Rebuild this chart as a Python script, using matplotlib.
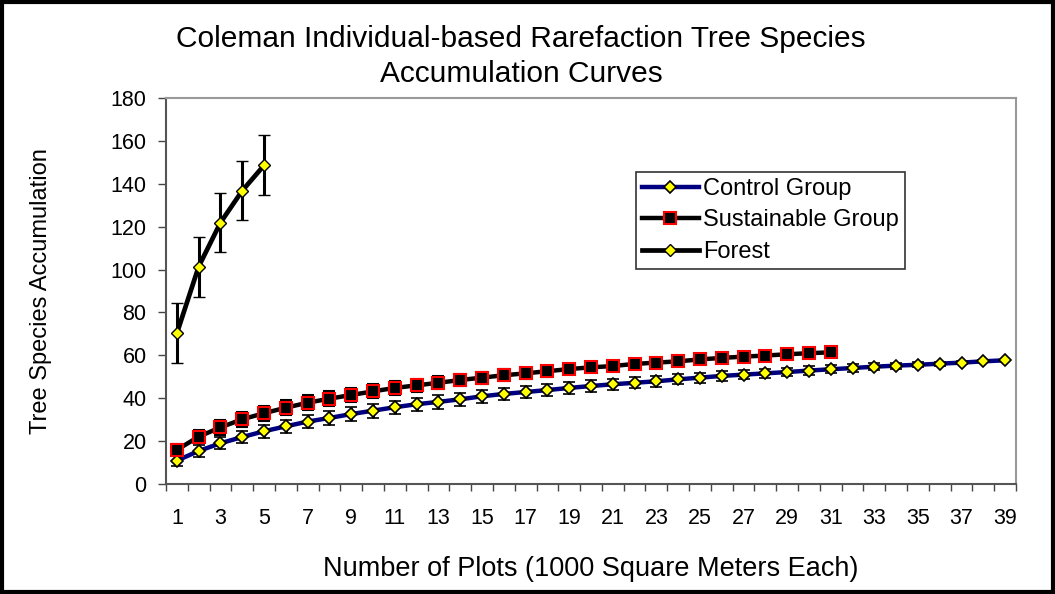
import matplotlib.pyplot as plt
import matplotlib.patches as patches
import numpy as np

plt.rcParams['font.family'] = ['Liberation Sans', 'DejaVu Sans']

# data
control = [10.9, 15.4, 19.0, 21.9, 24.6, 26.9, 29.1, 30.8, 32.6, 34.2,
           35.8, 37.2, 38.3, 39.5, 40.9, 42.0, 42.9, 43.8, 44.8, 45.7,
           46.5, 47.2, 47.9, 48.8, 49.6, 50.4, 51.0, 51.6, 52.2, 52.9,
           53.5, 54.1, 54.7, 55.2, 55.6, 56.1, 56.6, 57.2, 57.7]
control_err = [2.3, 2.7, 2.9, 3.0, 3.1, 3.1, 3.2, 3.2, 3.2, 3.2,
               3.1, 3.1, 3.1, 3.0, 3.0, 2.9, 2.9, 2.8, 2.8, 2.7,
               2.6, 2.6, 2.5, 2.4, 2.3, 2.2, 2.2, 2.1, 2.0, 1.9,
               1.8, 1.7, 1.5, 1.4, 1.2, 1.0, 0.8, 0.5, 0.0]
sustain = [15.9, 22.1, 26.4, 30.2, 33.0, 35.6, 37.9, 39.8, 41.5, 43.2,
           44.8, 46.0, 47.2, 48.5, 49.6, 50.7, 51.6, 52.6, 53.6, 54.4,
           55.0, 56.0, 56.6, 57.2, 58.1, 58.8, 59.4, 59.9, 60.5, 61.0,
           61.4]
sustain_err = [2.6, 3.2, 3.4, 3.5, 3.6, 3.5, 3.5, 3.4, 3.3, 3.3,
               3.2, 3.1, 3.0, 2.9, 2.8, 2.7, 2.6, 2.5, 2.4, 2.3,
               2.2, 2.1, 2.0, 1.8, 1.6, 1.4, 1.2, 1.0, 0.7, 0.4, 0.0]
forest = [70.3, 101.4, 121.9, 136.8, 148.6]
forest_err = [14.0, 14.0, 13.8, 13.8, 14.0]

n_cat = 39
x_ctrl = np.arange(1, len(control) + 1)
x_sus = np.arange(1, len(sustain) + 1)
x_for = np.arange(1, len(forest) + 1)

fig = plt.figure(figsize=(10.55, 5.94), dpi=100)
ax = fig.add_axes([166/1055, 1 - 484/594, 850/1055, 386/594])

ax.errorbar(x_ctrl, control, yerr=control_err, color='#000080', lw=3.2,
            marker='D', ms=6, mfc='#ffff00', mec='black', mew=1.2,
            ecolor='black', elinewidth=2.0, capsize=4.5, capthick=2.5,
            label='Control Group', zorder=3)
ax.errorbar(x_sus, sustain, yerr=sustain_err, color='black', lw=3.2,
            marker='s', ms=8, mfc='black', mec='#ff0000', mew=1.5,
            ecolor='black', elinewidth=2.0, capsize=4.5, capthick=2.5,
            label='Sustainable Group', zorder=4)
ax.errorbar(x_for, forest, yerr=forest_err, color='black', lw=3.4,
            marker='D', ms=6, mfc='#ffff00', mec='black', mew=1.0,
            ecolor='black', elinewidth=2.2, capsize=4.5, capthick=2.5,
            label='Forest', zorder=5)

ax.set_xlim(0.5, n_cat + 0.5)
ax.set_ylim(0, 180)
ax.set_yticks(np.arange(0, 181, 20))
ax.set_xticks(np.arange(1, n_cat + 1, 2))
ax.set_xticks(np.arange(0.5, n_cat + 1, 1), minor=True)
ax.tick_params(axis='x', which='major', length=0, pad=17, labelsize=15.5)
ax.tick_params(axis='x', which='minor', length=5, width=1, direction='out',
               color='#444444')
ax.tick_params(axis='y', length=6, width=1, direction='out', labelsize=15.5,
               pad=8, color='#444444')

for side in ['left', 'bottom']:
    ax.spines[side].set_color('#555555')
    ax.spines[side].set_linewidth(1.5)
for side in ['top', 'right']:
    ax.spines[side].set_color('#999999')
    ax.spines[side].set_linewidth(1.5)

ax.set_ylabel('Tree Species Accumulation', fontsize=17, labelpad=42)
ax.set_xlabel('Number of Plots (1000 Square Meters Each)', fontsize=19.5,
              labelpad=20)
fig.text(0.494, 0.905, 'Coleman Individual-based Rarefaction Tree Species\n'
         'Accumulation Curves', ha='center', va='center', fontsize=21.5,
         linespacing=1.3)

handles, labels = ax.get_legend_handles_labels()
handles = [h[0] for h in handles]
leg = ax.legend(handles, labels, loc='upper left',
                bbox_to_anchor=(636/1055, 1 - 172/594),
                bbox_transform=fig.transFigure, borderaxespad=0,
                fancybox=False, edgecolor='black', fontsize=17,
                handlelength=2.4, handletextpad=0.2, labelspacing=0.4,
                borderpad=0.25)
leg.get_frame().set_linewidth(1.2)

fig.patches.append(patches.Rectangle((0.002, 0.003), 0.996, 0.994,
                                     transform=fig.transFigure, fill=False,
                                     edgecolor='black', linewidth=3))

fig.savefig('out.png', dpi=100)
